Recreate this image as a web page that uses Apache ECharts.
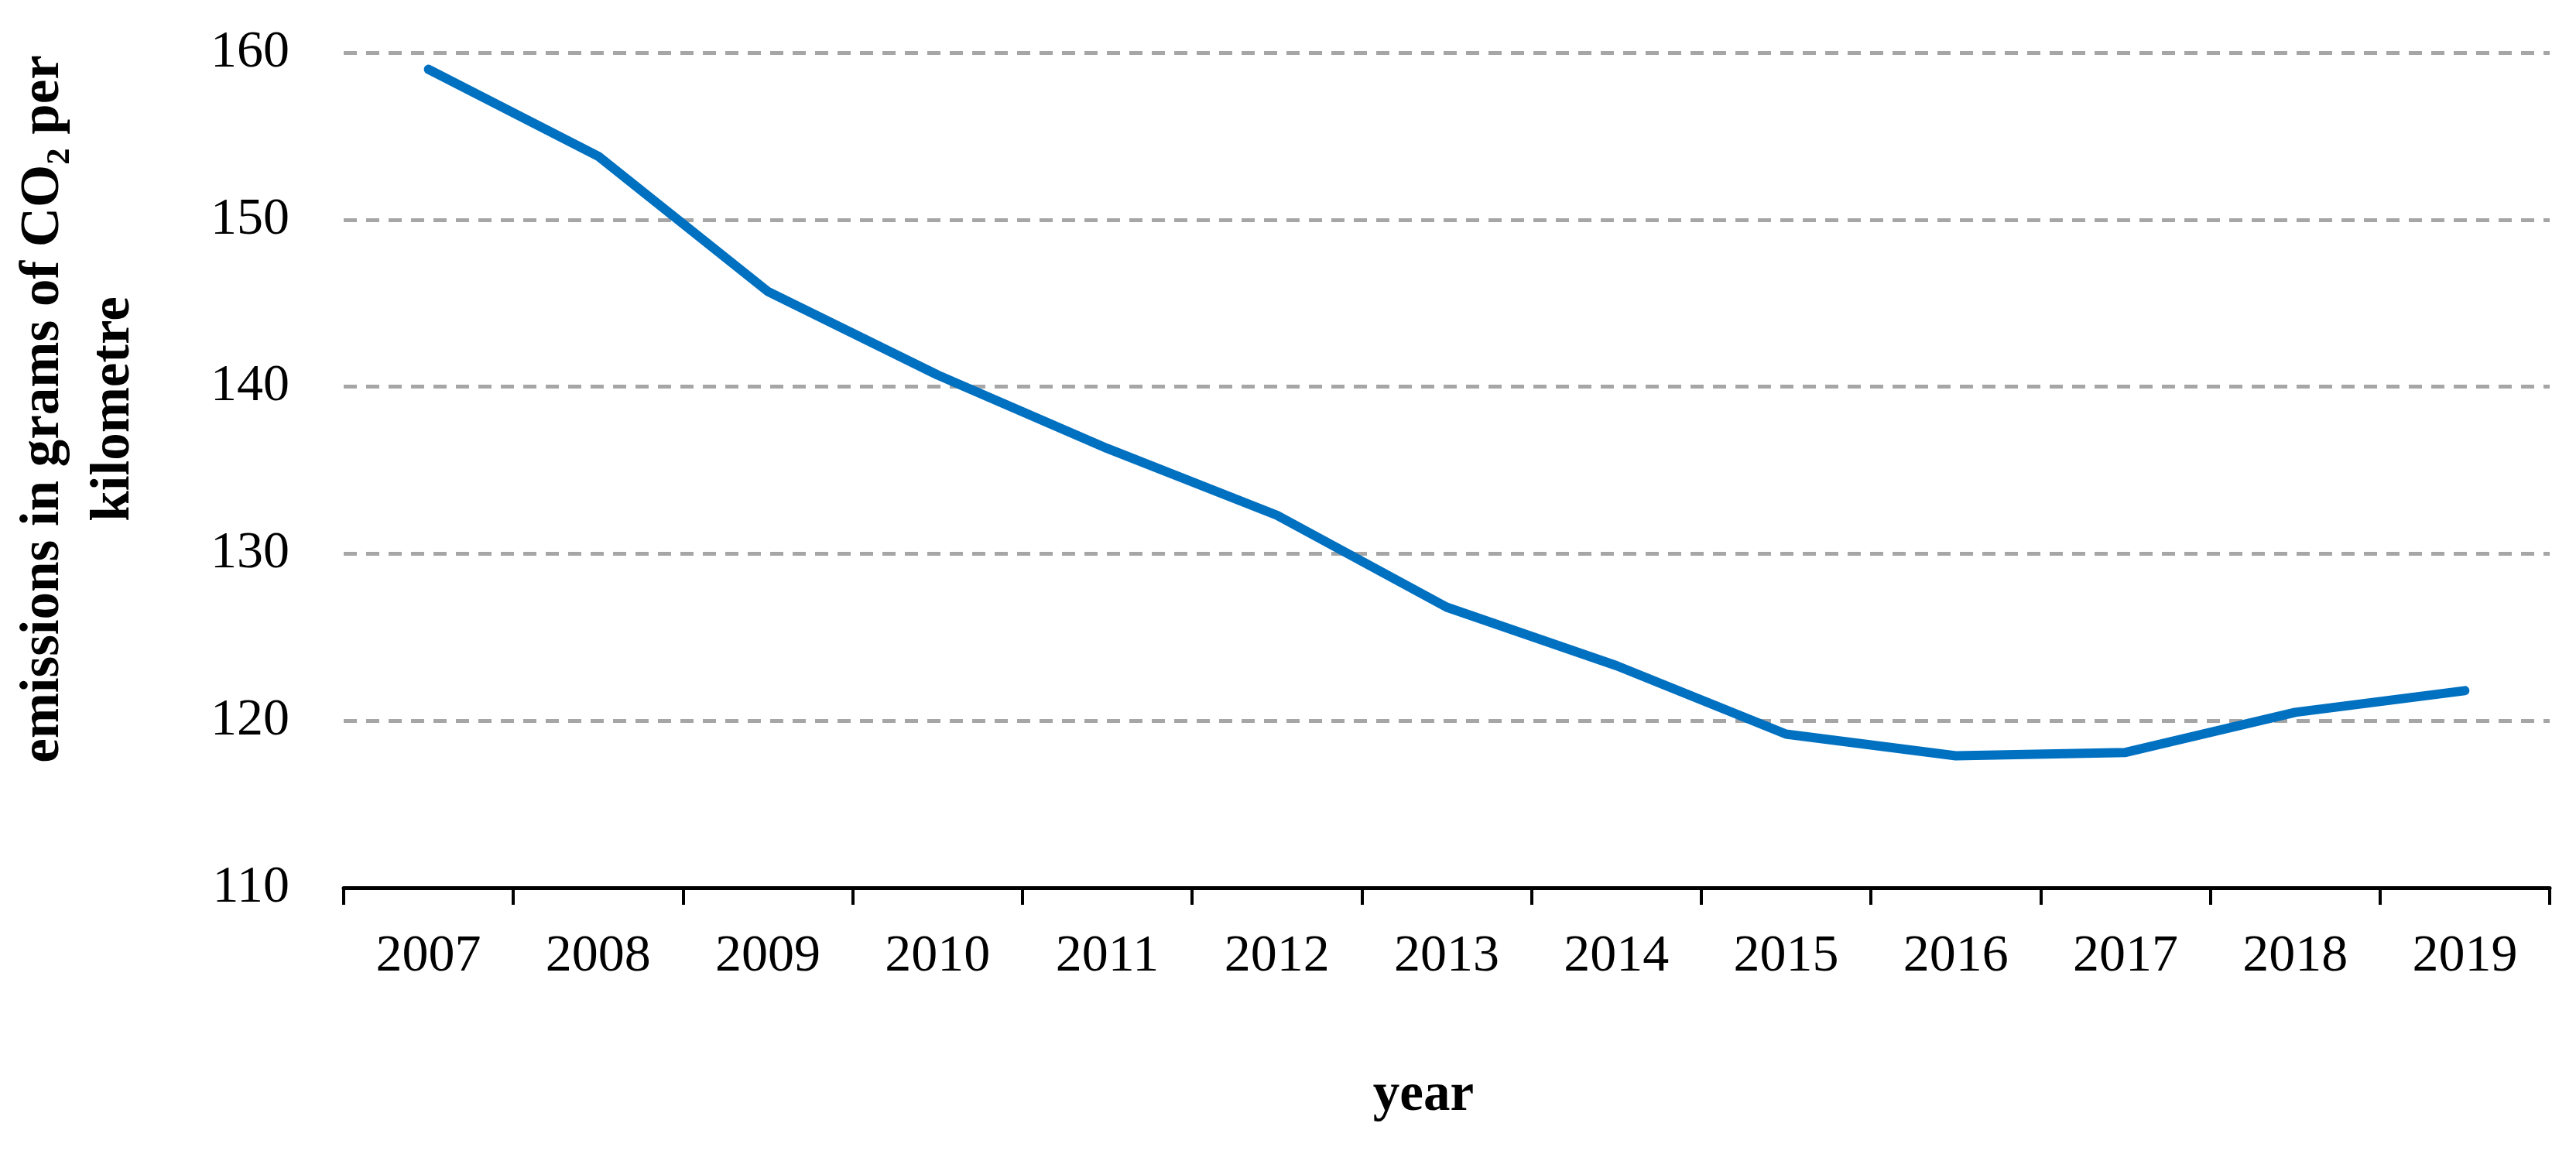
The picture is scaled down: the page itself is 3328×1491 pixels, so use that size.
<!DOCTYPE html>
<html>
<head>
<meta charset="utf-8">
<script src="https://cdn.jsdelivr.net/npm/echarts@6/dist/echarts.min.js"></script>
<style>
html,body{margin:0;padding:0;background:#fff;}
#chart{width:3328px;height:1491px;}
</style>
</head>
<body>
<div id="chart"></div>
<script>
const years = ['2007','2008','2009','2010','2011','2012','2013','2014','2015','2016','2017','2018','2019'];
const emissions = [159.0, 153.8, 145.7, 140.7, 136.3, 132.3, 126.8, 123.3, 119.2, 117.9, 118.1, 120.5, 121.8];
const yTicks = {min: 110, max: 160, interval: 10};
const xName = 'year';
const yName = 'emissions in grams of CO₂ per\nkilometre';

const FONT = '"Liberation Serif", "DejaVu Serif", serif';
const chart = echarts.init(document.getElementById('chart'), null, {renderer: 'canvas'});
chart.setOption({
  animation: false,
  backgroundColor: '#ffffff',
  grid: {left: 444, right: 34, top: 68, bottom: 344, containLabel: false},
  xAxis: {
    type: 'category',
    data: years,
    boundaryGap: true,
    name: xName,
    nameLocation: 'middle',
    nameGap: 235,
    nameTextStyle: {fontFamily: FONT, fontSize: 69, fontWeight: 'bold', color: '#000', padding: [0, 60, 0, 0]},
    axisLine: {show: true, lineStyle: {color: '#000', width: 5}},
    axisTick: {show: true, inside: false, length: 22, alignWithLabel: false, lineStyle: {color: '#000', width: 4}},
    axisLabel: {fontFamily: FONT, fontSize: 68, color: '#000', margin: 55},
    splitLine: {show: false}
  },
  yAxis: {
    type: 'value',
    min: yTicks.min,
    max: yTicks.max,
    interval: yTicks.interval,
    name: yName,
    nameLocation: 'middle',
    nameRotate: 90,
    nameGap: 251,
    nameTextStyle: {fontFamily: FONT, fontSize: 71, fontWeight: 'bold', color: '#000', lineHeight: 91, padding: [0, 0, 0, 158]},
    axisLine: {show: false},
    axisTick: {show: false},
    axisLabel: {fontFamily: FONT, fontSize: 68, color: '#000', margin: 70},
    splitLine: {show: true, lineStyle: {color: '#A6A6A6', width: 5, type: [17, 12]}}
  },
  series: [{
    type: 'line',
    data: emissions,
    showSymbol: false,
    symbol: 'none',
    smooth: false,
    lineStyle: {color: '#0070C0', width: 12, cap: 'round', join: 'round'},
    itemStyle: {color: '#0070C0'}
  }]
});
</script>
</body>
</html>
